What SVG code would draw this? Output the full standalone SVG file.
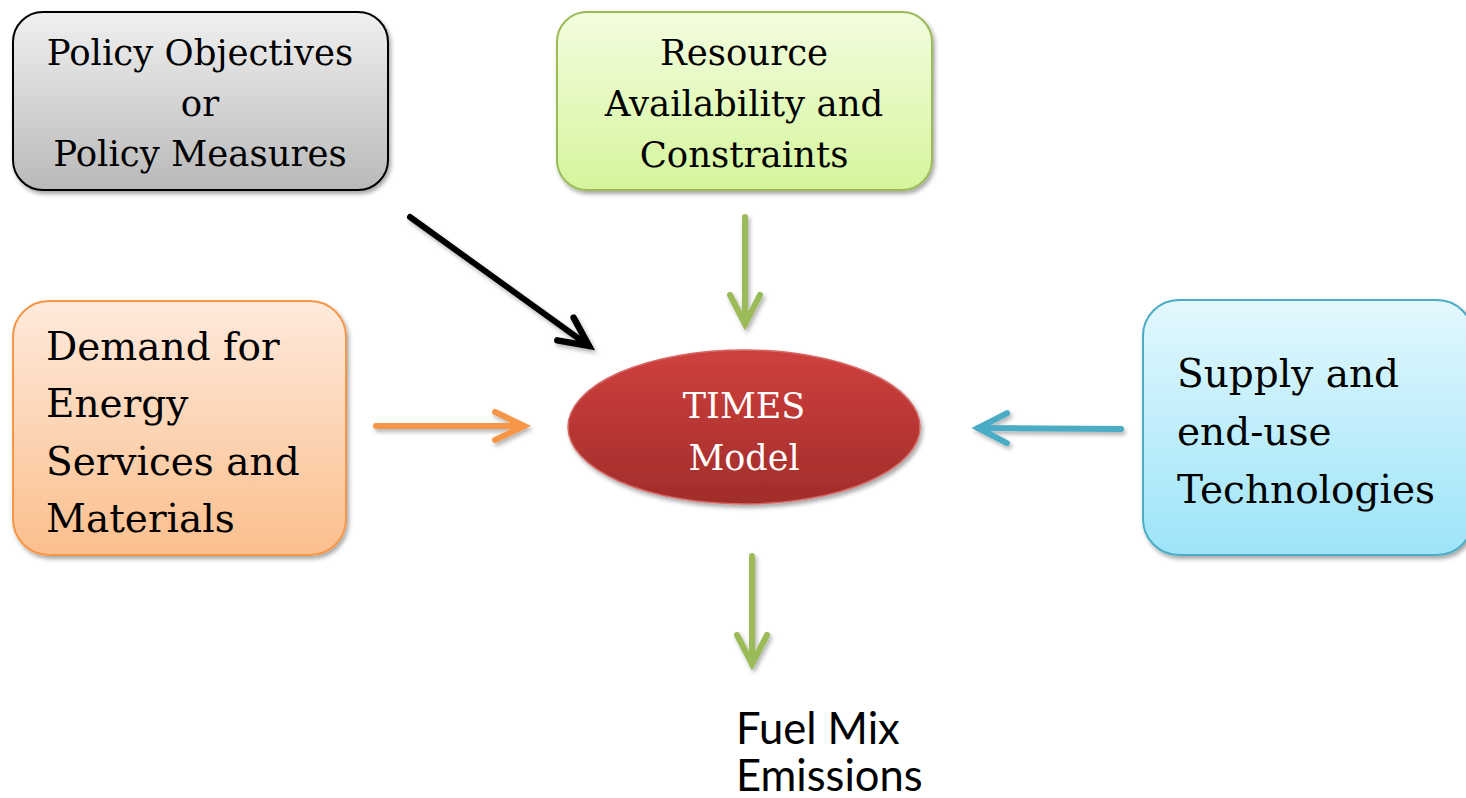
<svg xmlns="http://www.w3.org/2000/svg" width="1466" height="798" viewBox="0 0 1466 798">
<style>
.box{stroke-width:2;filter:url(#sh)}
.lbl{font-family:"DejaVu Serif","Liberation Serif",serif;fill:#000}
.c{text-anchor:middle;font-size:35.5px}
.l{font-size:39px}
.out{font-family:Lato,"Open Sans","Liberation Sans",sans-serif;font-size:43.5px;fill:#000}
.arr{fill:none;stroke-linecap:round;stroke-width:6;filter:url(#shu)}
</style>
<defs>
<filter id="sh" x="-20%" y="-20%" width="140%" height="140%">
<feDropShadow dx="2" dy="3" stdDeviation="2.2" flood-color="#000" flood-opacity="0.35"/>
</filter>
<filter id="shu" filterUnits="userSpaceOnUse" x="0" y="0" width="1466" height="798">
<feDropShadow dx="2" dy="3" stdDeviation="2" flood-color="#000" flood-opacity="0.3"/>
</filter>
<linearGradient id="gGrey" x1="0" y1="0" x2="0" y2="1"><stop offset="0" stop-color="#f0f0f0"/><stop offset="1" stop-color="#b9b9b9"/></linearGradient>
<linearGradient id="gGreen" x1="0" y1="0" x2="0" y2="1"><stop offset="0" stop-color="#f3fddf"/><stop offset="1" stop-color="#d5f59c"/></linearGradient>
<linearGradient id="gOrange" x1="0" y1="0" x2="0" y2="1"><stop offset="0" stop-color="#feeadc"/><stop offset="1" stop-color="#fbbf8d"/></linearGradient>
<linearGradient id="gBlue" x1="0" y1="0" x2="0" y2="1"><stop offset="0" stop-color="#e3f8fd"/><stop offset="1" stop-color="#9de4f9"/></linearGradient>
<linearGradient id="gRed" x1="0" y1="0" x2="0" y2="1"><stop offset="0" stop-color="#cf403d"/><stop offset="1" stop-color="#a12d2a"/></linearGradient>
<marker id="mBlack" markerUnits="userSpaceOnUse" orient="auto" refX="0" refY="0" markerWidth="80" markerHeight="80" overflow="visible"><path d="M -29 -14 L 0 0 L -29 14" fill="none" stroke="#000" stroke-width="6.5" stroke-linecap="round" stroke-linejoin="miter"/></marker>
<marker id="mGreen" markerUnits="userSpaceOnUse" orient="auto" refX="0" refY="0" markerWidth="80" markerHeight="80" overflow="visible"><path d="M -29 -15 L 0 0 L -29 15" fill="none" stroke="#9bbb59" stroke-width="6" stroke-linecap="round" stroke-linejoin="miter"/></marker>
<marker id="mOrange" markerUnits="userSpaceOnUse" orient="auto" refX="0" refY="0" markerWidth="80" markerHeight="80" overflow="visible"><path d="M -29 -14 L 0 0 L -29 14" fill="none" stroke="#f79646" stroke-width="6" stroke-linecap="round" stroke-linejoin="miter"/></marker>
<marker id="mBlue" markerUnits="userSpaceOnUse" orient="auto" refX="0" refY="0" markerWidth="80" markerHeight="80" overflow="visible"><path d="M -29 -15 L 0 0 L -29 15" fill="none" stroke="#4bacc6" stroke-width="6" stroke-linecap="round" stroke-linejoin="miter"/></marker>
</defs>
<rect width="1466" height="798" fill="#fff"/>
<g id="connectors">
<path class="arr" d="M 410 217 L 589 346" stroke="#000" stroke-width="6.5" marker-end="url(#mBlack)"/>
<path class="arr" d="M 745 217 L 745 324" stroke="#9bbb59" marker-end="url(#mGreen)"/>
<path class="arr" d="M 376 426 L 524 426" stroke="#f79646" marker-end="url(#mOrange)"/>
<path class="arr" d="M 1121 429 L 978 428" stroke="#4bacc6" marker-end="url(#mBlue)"/>
<path class="arr" d="M 752 556 L 752 664" stroke="#9bbb59" marker-end="url(#mGreen)"/>
</g>
<g id="policy">
<rect class="box" x="13" y="12" width="375" height="178" rx="30" fill="url(#gGrey)" stroke="#000"/>
<text class="lbl c" x="200" y="65">Policy Objectives</text>
<text class="lbl c" x="200" y="116">or</text>
<text class="lbl c" x="200" y="166">Policy Measures</text>
</g>
<g id="resource">
<rect class="box" x="557" y="12" width="375" height="178" rx="30" fill="url(#gGreen)" stroke="#9bbb59"/>
<text class="lbl c" x="744" y="65">Resource</text>
<text class="lbl c" x="744" y="116">Availability and</text>
<text class="lbl c" x="744" y="167">Constraints</text>
</g>
<g id="demand">
<rect class="box" x="13" y="301" width="333" height="254" rx="36" fill="url(#gOrange)" stroke="#f79646"/>
<text class="lbl l" x="46" y="360">Demand for</text>
<text class="lbl l" x="46" y="417">Energy</text>
<text class="lbl l" x="46" y="475">Services and</text>
<text class="lbl l" x="46" y="532">Materials</text>
</g>
<g id="supply">
<rect class="box" x="1143" y="300" width="330" height="255" rx="36" fill="url(#gBlue)" stroke="#4bacc6"/>
<text class="lbl l" x="1177" y="387">Supply and</text>
<text class="lbl l" x="1177" y="445">end-use</text>
<text class="lbl l" x="1177" y="503">Technologies</text>
</g>
<g id="times">
<ellipse cx="744" cy="427" rx="176" ry="77" fill="url(#gRed)" stroke="#d66a66" stroke-width="1.5" filter="url(#sh)"/>
<text class="lbl c" x="744" y="418" style="fill:#fff;font-size:35px">TIMES</text>
<text class="lbl c" x="744" y="470" style="fill:#fff;font-size:35px">Model</text>
</g>
<g id="output">
<text class="out" x="736" y="744">Fuel Mix</text>
<text class="out" x="736" y="791">Emissions</text>
</g>
</svg>
